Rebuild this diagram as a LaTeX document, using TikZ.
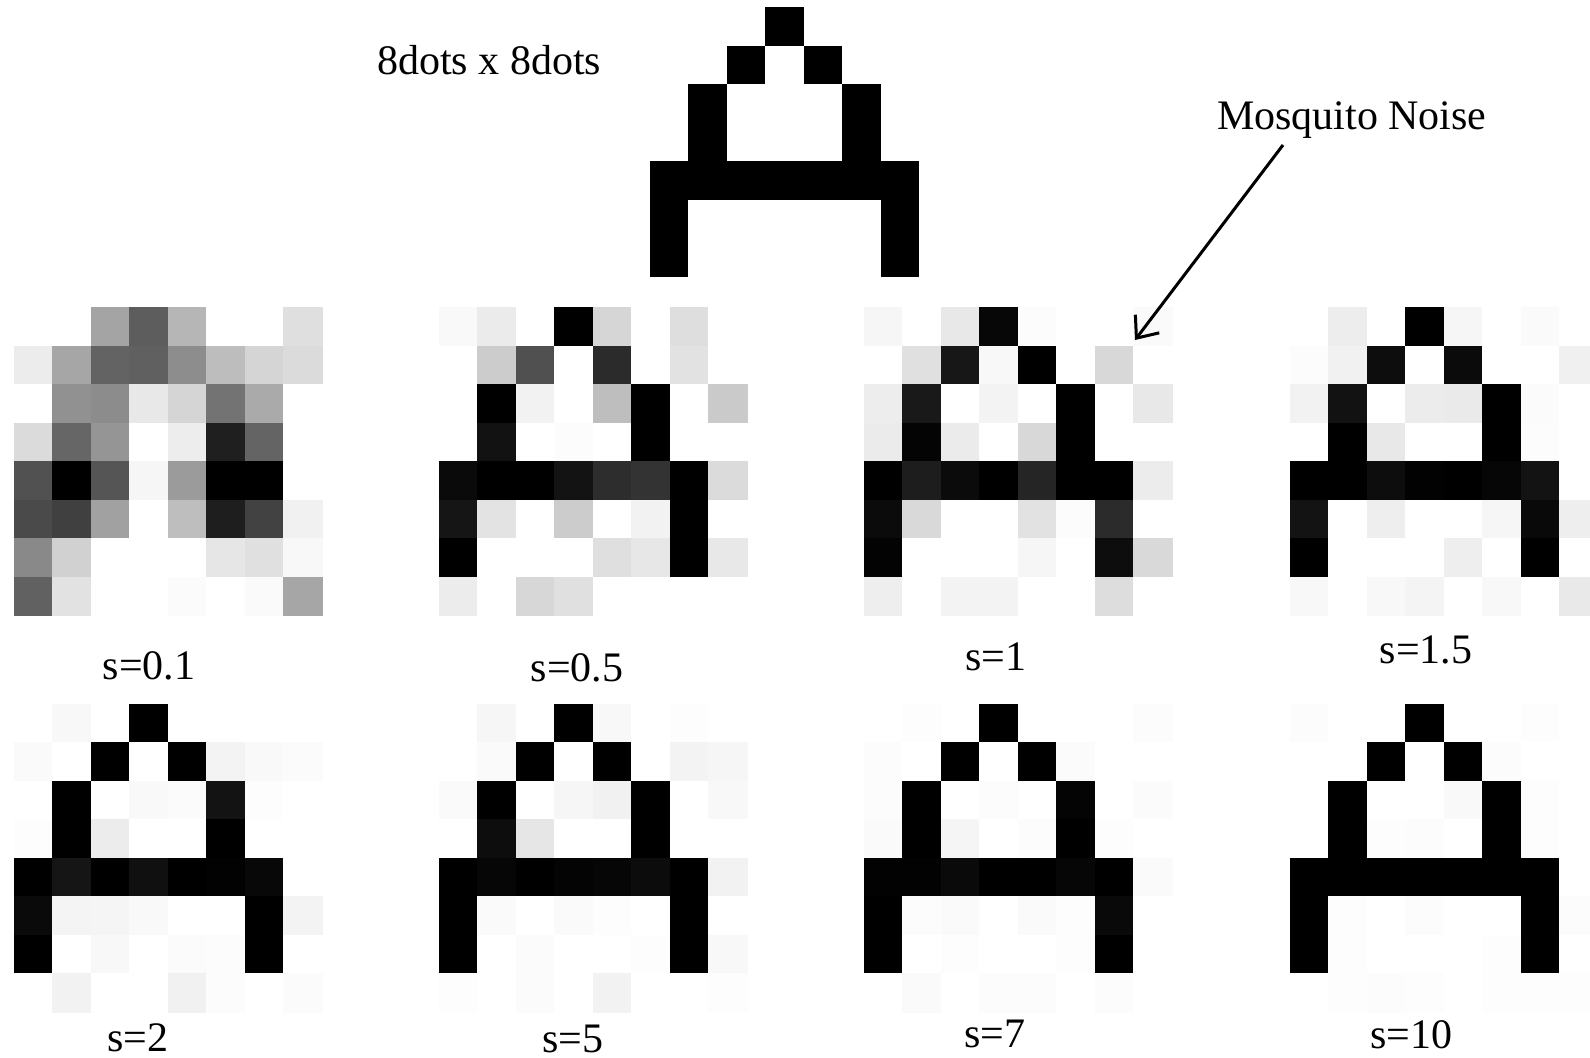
\documentclass[tikz,border=0pt]{standalone}
\usepackage{fontspec}
\setmainfont{Liberation Serif}
\usetikzlibrary{arrows.meta}
\newcommand{\pixgrid}[3]{%
  \foreach \v [count=\k from 0] in {#3} {
    \pgfmathtruncatemacro\cc{mod(\k,8)}
    \pgfmathtruncatemacro\rr{div(\k,8)}
    \definecolor{cellc}{RGB}{\v,\v,\v}
    \fill[cellc,draw=cellc,line width=0.2pt] ({#1+\cc*38.5},{#2+\rr*38.5}) rectangle ++(38.5,38.5);
  }}
\tikzset{
  lbl/.style={inner sep=0pt,anchor=base,font=\fontsize{21pt}{25pt}\selectfont},
  arr/.style={line width=1.5pt,-{Straight Barb[length=9pt,width=15pt,line width=1.5pt]}}
}
\begin{document}
\begin{tikzpicture}[x=0.5pt,y=-0.5pt]
\useasboundingbox (0,0) rectangle (1590,1058);
\clip (0,0) rectangle (1590,1058);
\fill[white] (0,0) rectangle (1590,1058);
% top A
\pixgrid{650}{7.3}{255,255,255,0,255,255,255,255,
255,255,0,255,0,255,255,255,
255,0,255,255,255,0,255,255,
255,0,255,255,255,0,255,255,
0,0,0,0,0,0,0,255,
0,255,255,255,255,255,0,255,
0,255,255,255,255,255,0,255,
255,255,255,255,255,255,255,255}
% s=0.1
\pixgrid{14}{307.7}{255,255,164,93,182,255,255,223,
236,166,99,96,141,189,213,219,
255,145,140,232,213,115,170,255,
219,102,149,255,237,31,100,255,
81,0,85,246,155,0,0,255,
74,64,161,255,190,30,66,241,
137,209,255,255,255,230,224,248,
97,226,255,255,251,255,250,166}
% s=0.5
\pixgrid{439}{307.7}{249,235,255,0,214,255,222,255,
255,204,80,255,43,255,226,255,
255,0,242,255,190,0,255,202,
255,18,255,252,255,0,255,255,
10,0,0,19,45,51,0,219,
21,227,255,204,255,242,0,255,
0,255,255,255,223,231,0,232,
236,255,215,224,255,255,255,255}
% s=1
\pixgrid{864}{307.7}{246,255,232,7,252,255,255,250,
255,224,23,248,0,255,216,255,
237,25,255,243,255,0,255,232,
235,4,235,255,216,0,255,255,
0,29,11,0,37,0,0,236,
11,217,255,255,226,252,43,255,
3,255,255,255,246,255,13,217,
238,255,243,243,255,255,221,255}
% s=1.5
\pixgrid{1290}{307.7}{255,237,255,0,246,255,250,255,
252,241,13,255,11,255,255,240,
242,18,255,236,234,0,251,255,
255,0,232,255,255,0,252,255,
0,0,13,2,0,6,19,255,
19,255,238,255,255,246,9,238,
0,255,255,255,238,255,0,255,
248,255,248,244,255,248,255,233}
% s=2
\pixgrid{14}{704}{255,248,255,0,255,255,255,255,
250,255,0,255,0,243,249,251,
255,0,255,249,251,19,253,255,
253,0,236,255,255,0,255,255,
0,21,0,16,0,2,8,255,
10,244,245,249,255,255,0,243,
0,255,248,255,251,252,0,255,
255,242,255,255,241,252,255,251}
% s=5
\pixgrid{439}{704}{255,246,255,0,248,255,253,255,
255,250,0,255,0,255,243,246,
250,0,255,246,241,0,255,248,
255,13,230,255,255,0,255,255,
0,6,0,4,6,12,0,242,
0,250,255,250,253,255,0,255,
0,255,251,255,255,253,0,248,
253,255,251,255,242,255,255,253}
% s=7
\pixgrid{864}{704}{255,253,255,0,255,255,255,252,
252,255,0,255,0,251,255,255,
252,0,255,252,255,4,255,251,
250,0,245,255,252,0,253,255,
2,2,10,0,0,6,0,250,
0,252,250,255,250,253,9,255,
0,255,253,255,255,253,0,255,
255,250,255,252,252,255,252,255}
% s=10
\pixgrid{1290}{704}{252,255,255,0,255,255,253,255,
255,255,0,255,0,252,255,255,
255,0,255,255,249,0,253,255,
255,0,253,252,255,0,253,255,
0,0,0,0,0,0,0,255,
0,253,255,252,255,255,0,252,
0,253,255,255,255,253,0,255,
255,253,252,253,255,253,253,253}
% texts
\node[lbl,anchor=base west] (title) at (376.7,75) {8dots x 8dots};
\node[lbl,anchor=base west] (mosq) at (1216.7,130) {Mosquito Noise};
\coordinate (mstart) at (1283,145);
\coordinate (mtip) at (1135,340);
\draw[arr] (mstart) -- (mtip);
\node[lbl] (l01) at (149,679) {s=0.1};
\node[lbl] (l05) at (577,681) {s=0.5};
\node[lbl] (l1) at (996,670) {s=1};
\node[lbl] (l15) at (1426,663) {s=1.5};
\node[lbl] (l2) at (138,1051) {s=2};
\node[lbl] (l5) at (573,1052) {s=5};
\node[lbl] (l7) at (995,1047) {s=7};
\node[lbl] (l10) at (1411,1048) {s=10};
\end{tikzpicture}
\end{document}
